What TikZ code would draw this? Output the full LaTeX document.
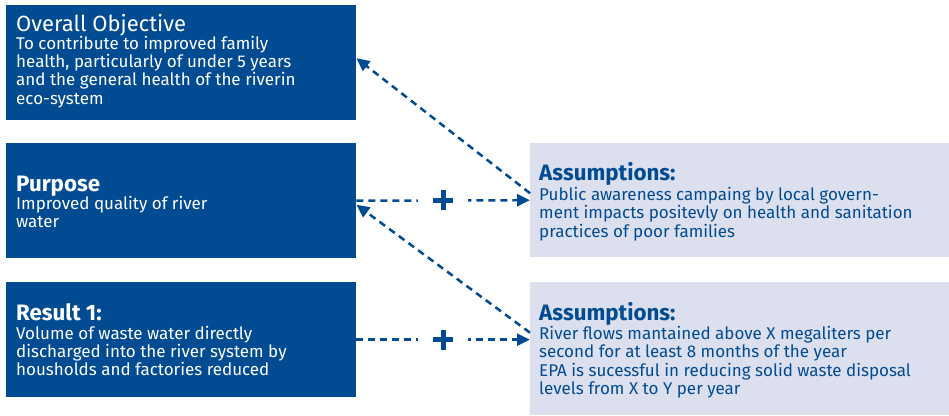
\documentclass[tikz,border=0pt]{standalone}
\usepackage{fontspec}
\setmainfont{Fira Sans}
\usepackage{tikz}
\usetikzlibrary{arrows.meta, positioning}

\definecolor{lfblue}{RGB}{0,75,146}
\definecolor{lfpale}{RGB}{220,223,238}

\tikzset{
    darkbox/.style={fill=lfblue, draw=none, anchor=north west, inner sep=0pt,
        minimum width=350pt, minimum height=115pt},
    palebox/.style={fill=lfpale, draw=none, anchor=north west, inner sep=0pt,
        minimum width=419pt},
    headtext/.style={anchor=base west, inner sep=0pt, font=\fontsize{22}{24}\selectfont},
    boldhead/.style={headtext, font=\fontsize{22.3}{24}\selectfont\bfseries},
    bodytext/.style={anchor=base west, inner sep=0pt, align=left,
        font=\fontsize{17}{18.3}\selectfont},
    dasharrow/.style={lfblue, line width=2.5pt, dash pattern=on 7pt off 5pt,
        -{Triangle[length=13pt,width=12pt]}},
    plusmark/.style={fill=white, inner sep=0pt, minimum width=50pt, minimum height=22pt,
        path picture={
            \draw[lfblue, line width=5pt]
                ([xshift=-10pt]path picture bounding box.center) -- ([xshift=10pt]path picture bounding box.center)
                ([yshift=-10pt]path picture bounding box.center) -- ([yshift=10pt]path picture bounding box.center);
        }}
}

\begin{document}
\begin{tikzpicture}[x=1pt, y=-1pt]
    \useasboundingbox (0,0) rectangle (949,415);

    \node[darkbox] (obj) at (6,5) {};
    \node[darkbox] (purp) at (6,143) {};
    \node[darkbox] (res) at (6,282) {};
    \node[palebox, minimum height=114pt] (as1) at (530,143) {};
    \node[palebox, minimum height=133pt] (as2) at (530,282) {};

    \node[headtext, white] (objhead) at (16,31.7) {Overall Objective};
    \node[bodytext, white] (objbody) at (16,104.2) {To contribute to improved family\\health, particularly of under 5 years\\and the general health of the riverin\\eco-system};

    \node[boldhead, white] (purphead) at (16,191.7) {Purpose};
    \node[bodytext, white] (purpbody) at (16,227.8) {Improved quality of river\\water};

    \node[boldhead, white] (reshead) at (16,320) {Result 1:};
    \node[bodytext, white] (resbody) at (16,375.8) {Volume of waste water directly\\discharged into the river system by\\housholds and factories reduced};

    \node[boldhead, lfblue] (as1head) at (539,180.7) {Assumptions:};
    \node[bodytext, lfblue] (as1body) at (539,237) {Public awareness campaing by local govern-\\ment impacts positevly on health and sanitation\\practices of poor families};

    \node[boldhead, lfblue] (as2head) at (539,320.7) {Assumptions:};
    \node[bodytext, lfblue] (as2body) at (539,394.4) {River flows mantained above X megaliters per\\second for at least 8 months of the year\\EPA is sucessful in reducing solid waste disposal\\levels from X to Y per year};

    \draw[dasharrow] ([yshift=7pt]as1.west) -- ([yshift=4.5pt]obj.east);
    \draw[dasharrow] ([yshift=7pt]as2.west |- res.east) -- ([yshift=-4pt]purp.east);
    \draw[dasharrow] (purp.east) -- (as1.west);
    \draw[dasharrow] (res.east) -- (as2.west |- res.east);

    \node[plusmark] (plus1) at (443,200) {};
    \node[plusmark] (plus2) at (443,339.5) {};
\end{tikzpicture}
\end{document}
